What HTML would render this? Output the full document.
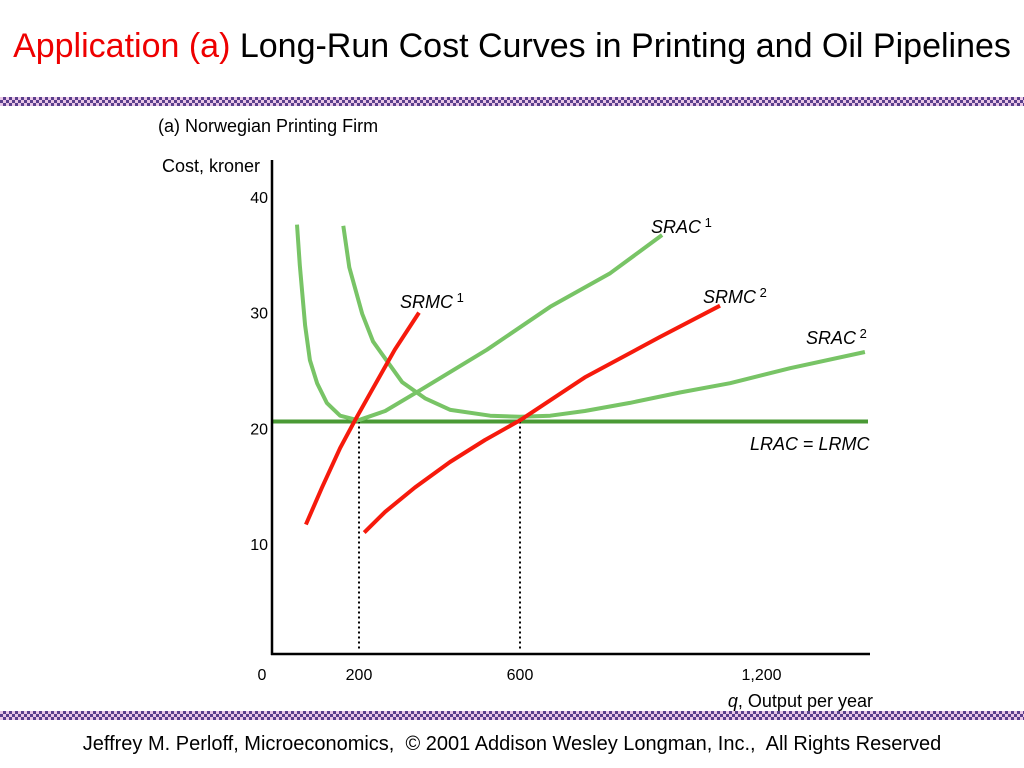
<!DOCTYPE html>
<html><head><meta charset="utf-8">
<style>
body{margin:0;width:1024px;height:768px;background:#fff;overflow:hidden;font-family:"Liberation Sans",sans-serif;position:relative}
.bar{position:absolute;left:0;width:1024px;height:9px;background-color:#e9c6e6;background-image:linear-gradient(45deg,#5a3f8c 25%,transparent 25%,transparent 75%,#5a3f8c 75%),linear-gradient(45deg,#5a3f8c 25%,transparent 25%,transparent 75%,#5a3f8c 75%);background-size:6px 6px;background-position:0 0,3px 3px}
</style></head><body>
<div style="position:absolute;left:0;width:1024px;top:27px;text-align:center;font-size:34px;color:#000;white-space:nowrap"><span style="color:#e00">Application (a)</span> Long-Run Cost Curves in Printing and Oil Pipelines</div>
<div class="bar" style="top:97px"></div>
<div class="bar" style="top:711px"></div>
<div style="position:absolute;left:0;width:1024px;top:733px;text-align:center;font-size:20px;white-space:nowrap">Jeffrey M. Perloff, Microeconomics,&nbsp; © 2001 Addison Wesley Longman, Inc.,&nbsp; All Rights Reserved</div>
<svg id="chart" width="1024" height="768" style="position:absolute;left:0;top:0" font-family="Liberation Sans, sans-serif"></svg>
<script>
const yTicks=[0,10,20,30,40];
const xTicks=[200,600,1200];
const xTickLabels=["200","600","1,200"];
const lracLevel=20.6;
const srac1Q=[46,53,66,78,96,120,153,198,265,352,518,675,824,953];
const srac1C=[37.6,34.1,28.9,25.9,23.9,22.2,21.1,20.7,21.5,23.3,26.8,30.5,33.4,36.7];
const srac2Q=[161,176,208,235,307,364,427,526,600,675,761,873,997,1122,1271,1457];
const srac2C=[37.5,33.9,29.9,27.5,24.0,22.6,21.6,21.1,21.0,21.1,21.5,22.2,23.1,23.9,25.2,26.6];
const srmc1Q=[68,108,153,190,232,289,349];
const srmc1C=[11.7,14.9,18.3,20.7,23.3,26.8,30.0];
const srmc2Q=[213,265,339,426,513,600,761,948,1097];
const srmc2C=[11.0,12.8,14.9,17.1,19.0,20.7,24.4,27.9,30.6];
const minQ=[200,600];
const X=q=>278.5+q*0.4025, Y=c=>660-c*11.58;
const svg=document.getElementById('chart'),NS='http://www.w3.org/2000/svg';
function mk(t,a,txt){const e=document.createElementNS(NS,t);for(const k in a)e.setAttribute(k,a[k]);if(txt!==undefined)e.textContent=txt;svg.appendChild(e);return e;}
function curve(qs,cs,col,name){const d=qs.map((q,i)=>(i?'L':'M')+X(q).toFixed(1)+' '+Y(cs[i]).toFixed(1)).join(' ');
const p=mk('path',{d:d,fill:'none',stroke:col,'stroke-width':4,'stroke-linejoin':'round','stroke-linecap':'butt'});

}
const l=mk('line',{x1:272,x2:868,y1:Y(lracLevel),y2:Y(lracLevel),stroke:'#4a9a35','stroke-width':4});


minQ.forEach(q=>{const d=mk('line',{x1:X(q),x2:X(q),y1:Y(lracLevel),y2:651,stroke:'#000','stroke-width':2,'stroke-dasharray':'2,3'});

});
curve(srac1Q,srac1C,'#78c466','srac1-curve');
curve(srac2Q,srac2C,'#78c466','srac2-curve');
curve(srmc1Q,srmc1C,'#f61a0c','srmc1-curve');
curve(srmc2Q,srmc2C,'#f61a0c','srmc2-curve');
const ya=mk('line',{x1:272,x2:272,y1:160,y2:655,stroke:'#000','stroke-width':2.5});


const xa=mk('line',{x1:271,x2:870,y1:654,y2:654,stroke:'#000','stroke-width':2.5});


yTicks.forEach(v=>{if(v===0)return;const t=mk('text',{x:268,y:Y(v)+6,'font-size':16,'text-anchor':'end'},String(v));

});
const z=mk('text',{x:262,y:680,'font-size':16,'text-anchor':'middle'},'0');


xTicks.forEach((v,i)=>{const t=mk('text',{x:X(v),y:680,'font-size':16,'text-anchor':'middle'},xTickLabels[i]);

});
function lab(x,y,html,name,anchor){const t=mk('text',{x:x,y:y,'font-size':18,'text-anchor':anchor||'start'});t.innerHTML=html;

}
lab(158,132,'(a) Norwegian Printing Firm','panel-title');
lab(162,172,'Cost, kroner','y-axis-title');
lab(873,707,'<tspan font-style="italic">q</tspan>, Output per year','x-axis-title','end');
lab(651,233,'<tspan font-style="italic">SRAC</tspan><tspan font-size="13" dy="-6"> 1</tspan>','srac1-label');
lab(400,308,'<tspan font-style="italic">SRMC</tspan><tspan font-size="13" dy="-6"> 1</tspan>','srmc1-label');
lab(703,303,'<tspan font-style="italic">SRMC</tspan><tspan font-size="13" dy="-6"> 2</tspan>','srmc2-label');
lab(806,344,'<tspan font-style="italic">SRAC</tspan><tspan font-size="13" dy="-6"> 2</tspan>','srac2-label');
lab(750,450,'<tspan font-style="italic">LRAC</tspan> = <tspan font-style="italic">LRMC</tspan>','lrac-label');
</script>
</body></html>
